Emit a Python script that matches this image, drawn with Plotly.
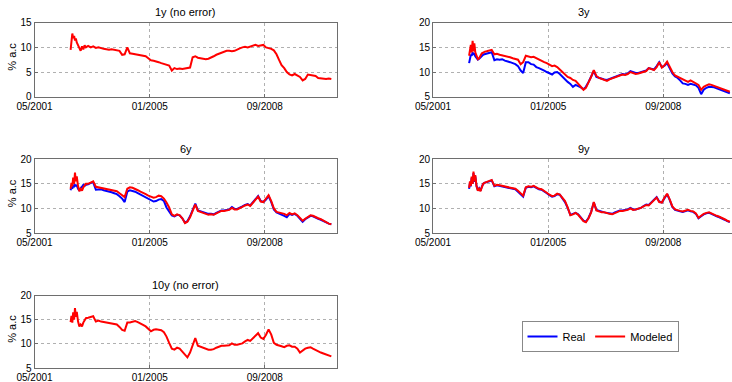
import plotly.graph_objects as go

# ---------------- data ----------------
early_dates = ["2002-06-25", "2002-07-05", "2002-07-15", "2002-07-25", "2002-08-05",
               "2002-08-15", "2002-08-25", "2002-09-05", "2002-09-20", "2002-10-05",
               "2002-10-20", "2002-11-05", "2002-11-20", "2002-12-05", "2002-12-20"]
monthly_dates = [f"{y}-{m:02d}-15" for y in range(2003, 2011) for m in range(1, 13)
                 if not (y == 2010 and m > 10)]
dates = early_dates + monthly_dates

y1_model = [9.5, 11.6, 12.8, 11.9, 12.3, 11.4, 11.8, 11.0, 10.4, 9.6, 9.3, 10.2, 9.6, 10.4, 10.0,
            10.3, 10.0, 10.2, 9.9, 10.0, 9.8, 9.7, 9.6, 9.5, 9.6, 9.5, 9.4,
            9.3, 8.5, 8.6, 10.0, 8.8, 8.7, 8.6, 8.5, 8.4, 8.3, 8.2, 7.8,
            7.4, 7.3, 7.2, 7.0, 6.8, 6.6, 6.5, 6.3, 5.3, 5.8, 5.6, 5.7,
            5.6, 5.7, 5.8, 5.9, 8.0, 8.2, 7.9, 7.8, 7.7, 7.6, 7.7, 7.9,
            8.2, 8.5, 8.7, 8.9, 9.1, 9.3, 9.3, 9.2, 9.3, 9.6, 9.8, 10.0,
            10.1, 10.0, 10.2, 10.4, 10.5, 10.3, 10.4, 10.5, 10.0, 9.9, 9.7, 9.4,
            8.6, 7.4, 6.4, 5.8, 5.0, 4.5, 4.3, 4.6, 4.2, 4.0, 3.3, 3.6,
            4.5, 4.4, 4.4, 4.2, 3.8, 3.7, 3.7, 3.6, 3.7, 3.6]

y3_real = [11.8, 12.8, 13.5, 13.3, 14.0, 13.5, 13.8, 13.2, 12.8, 12.5, 12.7, 13.0, 13.3, 13.5, 13.6,
           13.7, 13.9, 14.0, 12.4, 12.6, 12.5, 12.6, 12.3, 12.2, 12.0, 11.8, 11.6,
           11.2, 10.3, 9.8, 12.0, 12.0, 11.6, 11.5, 11.0, 10.8, 10.6, 10.3, 10.0,
           9.8, 9.5, 9.9, 10.0, 9.6, 9.0, 8.6, 8.0, 7.6, 7.0, 7.4, 7.2,
           6.9, 6.5, 7.0, 8.0, 9.2, 10.2, 9.0, 8.8, 8.7, 8.5, 8.4, 8.6,
           8.8, 9.0, 9.3, 9.4, 9.6, 9.5, 9.7, 10.2, 10.0, 9.8, 9.8, 10.0,
           10.1, 10.3, 10.8, 10.6, 10.5, 11.2, 12.0, 11.0, 11.3, 11.8, 10.8, 9.7,
           9.1, 8.8, 8.3, 7.7, 7.6, 7.4, 7.6, 7.5, 7.3, 6.8, 5.5, 6.4,
           6.8, 7.0, 7.0, 6.9, 6.7, 6.5, 6.3, 6.2, 5.9, 5.7]
y3_model = [13.3, 14.5, 15.5, 14.0, 16.3, 14.2, 15.8, 14.0, 13.2, 12.6, 12.8, 13.3, 13.8, 13.9, 14.1,
            14.2, 14.4, 14.5, 13.6, 13.7, 13.5, 13.4, 13.3, 13.2, 13.0, 12.8, 12.7,
            12.5, 11.6, 12.0, 13.3, 13.2, 13.0, 13.1, 12.8, 12.5, 12.3, 12.0, 11.8,
            11.5, 11.2, 11.3, 11.0, 10.5, 10.0, 9.6, 9.0, 8.8, 8.4, 8.2, 7.6,
            7.0, 6.4, 6.8, 7.8, 9.0, 10.4, 9.2, 8.8, 8.6, 8.3, 8.2, 8.5,
            8.7, 8.9, 9.2, 9.3, 9.5, 9.4, 9.6, 10.0, 9.8, 9.6, 9.7, 9.9,
            10.0, 10.2, 10.8, 10.6, 10.4, 11.0, 12.0, 10.9, 11.4, 12.1, 11.0, 10.0,
            9.3, 9.0, 8.8, 8.5, 8.3, 8.0, 8.3, 8.0, 7.8, 7.4, 6.4, 7.0,
            7.3, 7.5, 7.4, 7.2, 7.0, 6.8, 6.6, 6.4, 6.2, 6.0]

y6_real = [13.7, 14.3, 14.0, 14.8, 14.5, 14.8, 14.6, 14.7, 14.0, 13.6, 14.2, 14.4, 14.8, 14.6, 14.8,
           14.9, 15.2, 15.3, 13.8, 13.9, 13.9, 13.7, 13.6, 13.5, 13.3, 13.1, 12.9,
           12.5, 12.0, 11.3, 13.4, 13.7, 13.6, 13.4, 13.1, 12.8, 12.5, 12.2, 11.9,
           11.7, 11.4, 11.5, 11.8, 11.9, 11.5, 10.2, 9.5, 8.6, 8.4, 8.7, 8.6,
           8.0, 7.1, 7.4, 8.4, 9.6, 11.0, 9.6, 9.4, 9.2, 9.0, 8.9, 8.9,
           8.8, 9.1, 9.4, 9.6, 9.6, 9.7, 9.8, 10.3, 9.9, 9.9, 10.1, 10.4,
           10.7, 10.9, 10.6, 11.3, 11.9, 12.5, 11.5, 11.3, 11.8, 12.5, 11.3, 9.8,
           9.2, 9.0, 8.8, 8.5, 8.2, 8.9, 8.7, 8.9, 8.5, 7.8, 7.3, 7.8,
           8.2, 8.5, 8.4, 8.1, 7.9, 7.7, 7.4, 7.1, 6.9, 6.8]
y6_model = [14.0, 15.2, 14.5, 16.3, 15.0, 17.3, 15.5, 16.5, 14.5, 13.5, 14.0, 13.6, 14.3, 14.8, 15.0,
            15.0, 15.3, 15.5, 14.4, 14.3, 14.2, 14.1, 14.0, 13.9, 13.8, 13.7, 13.5,
            13.1, 12.6, 12.3, 14.0, 14.3, 14.2, 14.0, 13.7, 13.4, 13.2, 12.9, 12.6,
            12.4, 12.2, 12.3, 12.6, 12.5, 12.0, 11.2, 10.2, 8.8, 8.5, 8.8, 8.6,
            8.0, 7.0, 7.3, 8.2, 9.5, 10.8, 9.5, 9.3, 9.0, 8.8, 8.7, 8.8,
            8.7, 9.0, 9.3, 9.5, 9.5, 9.6, 9.7, 10.1, 9.8, 9.8, 10.0, 10.3,
            10.6, 10.8, 10.5, 11.2, 11.8, 12.4, 11.4, 11.3, 12.0, 12.7, 11.5, 10.0,
            9.3, 9.2, 9.1, 8.9, 8.6, 9.1, 8.8, 9.0, 8.6, 8.0, 7.5, 7.9,
            8.3, 8.6, 8.5, 8.2, 8.0, 7.8, 7.5, 7.2, 6.9, 6.8]

y9_real = [14.0, 15.2, 14.5, 16.2, 15.0, 17.2, 15.4, 16.5, 14.5, 13.7, 14.1, 13.6, 14.4, 15.0, 15.2,
           15.3, 15.5, 15.7, 14.5, 14.7, 14.6, 14.5, 14.4, 14.3, 14.2, 14.1, 13.9,
           13.4, 12.8, 12.4, 14.2, 14.4, 14.3, 14.5, 14.2, 13.9, 13.8, 13.5, 13.1,
           12.7, 12.4, 12.5, 12.9, 12.8, 12.0, 11.3, 10.1, 8.7, 8.9, 9.1, 8.8,
           8.1, 7.5, 7.3, 8.1, 9.3, 11.2, 9.7, 9.5, 9.3, 9.2, 9.1, 9.0,
           8.9, 9.2, 9.4, 9.6, 9.6, 9.7, 9.8, 10.1, 9.8, 9.8, 10.0, 10.1,
           10.5, 10.8, 10.7, 11.2, 11.7, 12.3, 11.4, 11.2, 12.1, 12.9, 11.7, 10.3,
           9.7, 9.5, 9.4, 9.3, 9.5, 9.6, 9.4, 9.3, 8.9, 8.0, 8.4, 8.8,
           9.0, 9.1, 8.9, 8.6, 8.4, 8.2, 8.0, 7.7, 7.4, 7.2]
y9_model = [14.2, 15.5, 14.6, 16.5, 15.0, 17.5, 15.5, 16.8, 14.5, 13.6, 14.0, 13.5, 14.3, 15.0, 15.2,
            15.4, 15.6, 15.8, 14.6, 14.8, 14.7, 14.6, 14.5, 14.4, 14.3, 14.2, 14.0,
            13.6, 13.0, 12.6, 14.3, 14.5, 14.4, 14.6, 14.3, 14.0, 13.9, 13.6, 13.2,
            12.8, 12.5, 12.6, 13.0, 12.8, 12.1, 11.5, 10.2, 8.6, 8.8, 9.1, 8.7,
            8.0, 7.4, 7.2, 8.0, 9.2, 11.3, 9.6, 9.4, 9.2, 9.2, 9.0, 8.9,
            8.8, 9.1, 9.3, 9.5, 9.5, 9.6, 9.7, 10.0, 9.7, 9.8, 9.9, 10.1,
            10.4, 10.7, 10.6, 11.1, 11.6, 12.2, 11.3, 11.2, 12.2, 13.0, 11.8, 10.4,
            9.8, 9.6, 9.5, 9.4, 9.6, 9.7, 9.5, 9.4, 9.0, 8.1, 8.5, 8.9,
            9.1, 9.2, 9.0, 8.7, 8.5, 8.3, 8.1, 7.8, 7.5, 7.3]

y10_model = [14.5, 15.8, 14.4, 16.5, 15.0, 17.4, 15.6, 16.6, 14.6, 13.6, 14.0, 13.6, 14.4, 15.0, 15.3,
             15.4, 15.6, 15.7, 14.6, 14.8, 14.6, 14.5, 14.5, 14.4, 14.2, 14.1, 14.0,
             13.5, 12.9, 12.7, 14.4, 14.4, 14.5, 14.7, 14.5, 14.1, 13.9, 13.6, 13.2,
             12.6, 12.9, 13.0, 12.9, 12.8, 12.4, 11.5, 10.2, 9.0, 8.8, 9.2, 9.0,
             8.3, 7.6, 7.2, 8.2, 9.6, 11.2, 9.6, 9.4, 9.2, 9.0, 8.8, 8.8,
             8.9, 9.2, 9.4, 9.6, 9.6, 9.7, 9.7, 10.1, 9.8, 9.8, 9.9, 10.1,
             10.5, 10.8, 10.6, 11.2, 11.6, 12.2, 11.3, 11.0, 11.9, 13.0, 11.9, 10.2,
             9.8, 9.7, 9.5, 9.3, 9.6, 9.7, 9.4, 9.4, 9.0, 8.2, 8.6, 9.0,
             9.2, 9.3, 9.0, 8.7, 8.5, 8.2, 8.0, 7.8, 7.5, 7.4]

tick_vals = ["2001-05-01", "2005-01-01", "2008-09-01"]
tick_text = ["05/2001", "01/2005", "09/2008"]

# panel: title, real series (or None), modeled series, column, row, y range, y ticks
panels = [
    ("1y (no error)", None, y1_model, "L", 1, [0, 15], [0, 5, 10, 15]),
    ("3y", y3_real, y3_model, "R", 1, [5, 20], [5, 10, 15, 20]),
    ("6y", y6_real, y6_model, "L", 2, [5, 20], [5, 10, 15, 20]),
    ("9y", y9_real, y9_model, "R", 2, [5, 20], [5, 10, 15, 20]),
    ("10y (no error)", None, y10_model, "L", 3, [5, 20], [5, 10, 15, 20]),
]

# ---------------- layout geometry ----------------
W, H = 732, 382
col_px = {"L": (34.5, 337.0), "R": (433.0, 732.0)}
row_px = {1: (22.7, 96.7), 2: (159.3, 233.0), 3: (295.5, 368.0)}
x_ranges = {"L": ["2001-05-01", "2010-12-20"], "R": ["2001-05-01", "2010-11-09"]}

FONT = "Liberation Sans, Arial, Helvetica, sans-serif"
AXC = "#6e6e6e"
GRIDC = "#b0b0b0"

fig = go.Figure()
layout = dict(
    template="none",
    width=W, height=H,
    margin=dict(l=0, r=0, t=0, b=0, pad=0, autoexpand=False),
    paper_bgcolor="white", plot_bgcolor="white",
    font=dict(family=FONT, size=10, color="black"),
    showlegend=True,
    legend=dict(orientation="h", x=600 / W, y=1 - 321 / H, xanchor="center", yanchor="top",
                bordercolor="#888", borderwidth=1, bgcolor="white",
                font=dict(size=11, family=FONT), itemwidth=30,
                tracegroupgap=0, traceorder="normal"),
    annotations=[],
)

legend_done = {"real": False, "model": False}
for i, (title, real, model, col, row, yr, yt) in enumerate(panels, start=1):
    xs = "" if i == 1 else str(i)
    x0, x1 = col_px[col]
    yt0, yb0 = row_px[row]
    xdom = [x0 / W, min(x1 / W, 1.0)]
    ydom = [1 - yb0 / H, 1 - yt0 / H]
    layout["xaxis" + xs] = dict(
        domain=xdom, anchor="y" + xs, type="date", range=x_ranges[col],
        tickmode="array", tickvals=tick_vals, ticktext=tick_text, automargin=False,
        showgrid=True, gridcolor=GRIDC, griddash="dot", gridwidth=1,
        showline=True, linecolor=AXC, linewidth=1, mirror=True,
        ticks="inside", ticklen=3, tickcolor=AXC, zeroline=False,
        tickfont=dict(size=10, family=FONT, color="black"), fixedrange=True,
    )
    layout["yaxis" + xs] = dict(
        domain=ydom, anchor="x" + xs, range=yr, tickmode="array", tickvals=yt,
        automargin=False,
        showgrid=True, gridcolor=GRIDC, griddash="dot", gridwidth=1,
        showline=True, linecolor=AXC, linewidth=1, mirror=(col == "L"),
        ticks="inside", ticklen=3, tickcolor=AXC, zeroline=False,
        tickfont=dict(size=10, family=FONT, color="black"), fixedrange=True,
    )
    if real is not None:
        fig.add_trace(go.Scatter(x=dates, y=real, mode="lines", name="Real",
                                 line=dict(color="#0000ff", width=2),
                                 xaxis="x" + xs, yaxis="y" + xs,
                                 showlegend=not legend_done["real"], legendrank=1))
        legend_done["real"] = True
    fig.add_trace(go.Scatter(x=dates, y=model, mode="lines", name="Modeled",
                             line=dict(color="#ff0000", width=2),
                             xaxis="x" + xs, yaxis="y" + xs,
                             showlegend=(not legend_done["model"]) and real is not None,
                             legendrank=2))
    if real is not None:
        legend_done["model"] = True
    # subplot title
    layout["annotations"].append(dict(
        text=title, xref="paper", yref="paper",
        x=(x0 + min(x1, 735.0) + (3 if col == "R" else 0)) / 2 / W,
        y=1 - (yt0 - 10.5) / H, xanchor="center", yanchor="middle", showarrow=False,
        font=dict(size=11, family=FONT, color="black")))
    if col == "L":
        layout["annotations"].append(dict(
            text="% a.c", xref="paper", yref="paper", x=12 / W,
            y=1 - ((yt0 + yb0) / 2 - 3) / H, xanchor="center", yanchor="middle",
            textangle=-90, showarrow=False, font=dict(size=11, family=FONT, color="black")))

fig.update_layout(**layout)
fig.write_html("out.html", config={"displayModeBar": False, "staticPlot": True},
               post_script="document.body.style.margin='0px';document.body.style.padding='0px';")
